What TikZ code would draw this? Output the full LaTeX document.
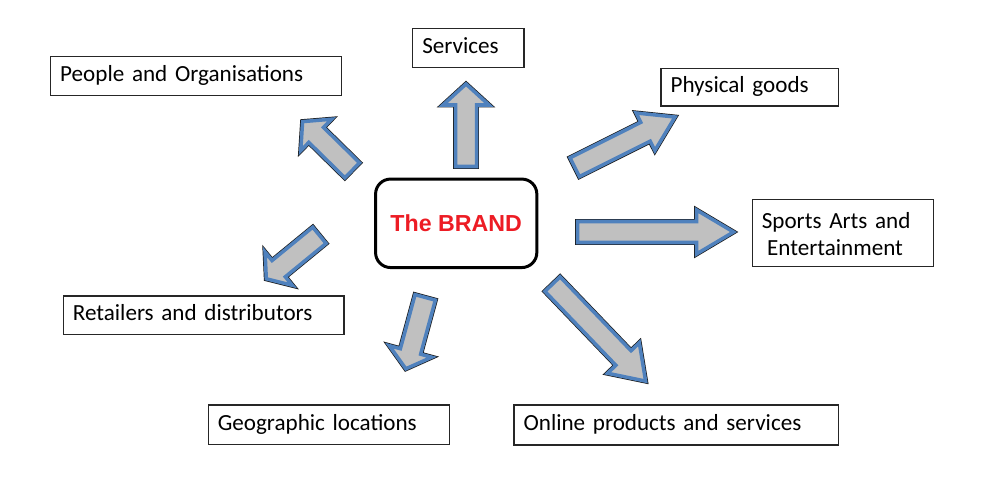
\documentclass[tikz,border=0pt]{standalone}
\usepackage{fontspec}
\setmainfont{Carlito}
\newfontfamily\brandfont{Liberation Sans}
\usetikzlibrary{calc}
\definecolor{arrowblue}{RGB}{79,129,189}
\definecolor{arrowgray}{RGB}{192,192,192}
\definecolor{brandred}{RGB}{237,28,36}
\newcommand\blockarrow[5]{%
  \coordinate (#1h) at ($(#2)!#5*0.02cm!(#1)$);
  \path[blockarrow] ($(#1)!#3*0.02cm!90:(#2)$)
    -- ($(#1h)!#3*0.02cm!-90:(#1)$)
    -- ($(#1h)!#4*0.02cm!-90:(#1)$)
    -- (#2)
    -- ($(#1h)!#4*0.02cm!90:(#1)$)
    -- ($(#1h)!#3*0.02cm!90:(#1)$)
    -- ($(#1)!#3*0.02cm!-90:(#2)$) -- cycle;
}
\begin{document}
\begin{tikzpicture}[x=0.02cm,y=-0.02cm,
  tbox/.style={draw=black!85, line width=0.8pt, rectangle, inner xsep=0.19cm, inner ysep=0pt,
    align=left, font=\fontsize{13.15}{15.3}\selectfont, execute at begin node=\strut},
  brandbox/.style={draw=black, line width=1.7pt, rounded corners=0.3cm, minimum width=3.226cm,
    minimum height=1.77cm, font=\brandfont\bfseries\fontsize{13.2}{15.4}\selectfont, text=brandred},
  blockarrow/.style={preaction={draw=black!90, line width=2.8pt, line join=miter},
    fill=arrowgray, draw=arrowblue, line width=2pt, line join=miter}]
\useasboundingbox (0,0) rectangle (1000,500);
\fill[white] (0,0) rectangle (1000,500);

\node[brandbox] (brand) at (456.2,223.3) {The BRAND};

\node[tbox, text width=1.846cm, minimum height=0.78cm] (services) at (468.4,47.8) {Services};
\node[tbox, text width=5.44cm, minimum height=0.78cm] (people) at (196.2,76.2) {People and Organisations};
\node[tbox, text width=3.166cm, minimum height=0.754cm] (physical) at (749.7,87.2) {Physical goods};
\node[tbox, text width=3.24cm, minimum height=1.348cm] (sports) at (842.8,233) {Sports Arts and\\\hspace*{3pt}Entertainment};
\node[tbox, text width=5.234cm, minimum height=0.766cm] (retail) at (203.7,315.2) {Retailers and distributors};
\node[tbox, text width=4.44cm, minimum height=0.786cm] (geo) at (328.8,424.7) {Geographic locations};
\node[tbox, text width=6.106cm, minimum height=0.8cm] (online) at (676.2,425) {Online products and services};

% arrow tails (S) and tips (T)
\coordinate (svcS) at (466,166.5);   \coordinate (svcT) at (466,84);
\coordinate (pplS) at (352.2,170.3); \coordinate (pplT) at (302.6,121.6);
\coordinate (phyS) at (574.7,167.2); \coordinate (phyT) at (675,117);
\coordinate (spoS) at (577.5,232);   \coordinate (spoT) at (733.5,232);
\coordinate (onlS) at (552.5,284.1); \coordinate (onlT) at (645.6,381.1);
\coordinate (geoS) at (425.2,297.4); \coordinate (geoT) at (405.8,368.8);
\coordinate (retS) at (319.4,235.3); \coordinate (retT) at (266.3,278.8);

\blockarrow{svcS}{svcT}{10.5}{23}{21}
\blockarrow{pplS}{pplT}{10.5}{22}{19}
\blockarrow{phyS}{phyT}{10.5}{21}{33}
\blockarrow{spoS}{spoT}{10.5}{22}{37}
\blockarrow{onlS}{onlT}{10.5}{22}{32}
\blockarrow{geoS}{geoT}{10.5}{22}{18}
\blockarrow{retS}{retT}{10.5}{21.5}{16}
\end{tikzpicture}
\end{document}
